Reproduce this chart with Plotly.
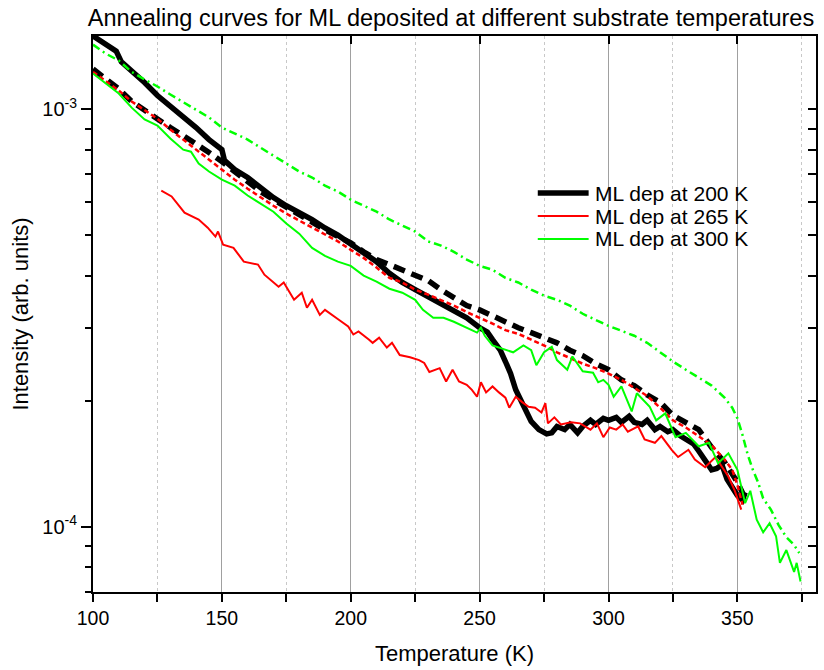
import plotly.graph_objects as go

# ---------------- data (intensity in units of 1e-4 arb. units) ----------------
SCALE = 1e-4

# ML deposited at 200 K  (thick black, solid)
T_200_A = [100, 104, 109, 111, 115, 120, 125, 130, 135, 140, 145, 150, 151, 155, 160, 165, 170,
           175, 180, 185, 190, 195, 200, 205, 210, 215, 220, 225, 230, 235, 240, 245, 250, 253,
           255, 258, 260, 262, 264, 266, 268, 270, 273, 276, 278, 280, 283, 285, 288, 290, 293,
           295, 298, 300, 303, 305, 308, 310, 313, 315, 318, 320, 323, 325, 328, 330, 333, 335,
           338, 340, 342, 344, 346, 348, 350, 352, 353]
I_200_A = [15.0, 14.4, 13.8, 13.0, 12.4, 11.6, 10.8, 10.2, 9.57, 9.05, 8.47, 8.01, 7.55, 7.18,
           6.87, 6.50, 6.15, 5.88, 5.66, 5.45, 5.20, 5.00, 4.76, 4.55, 4.32, 4.05, 3.85, 3.70,
           3.56, 3.42, 3.31, 3.17, 3.00, 2.93, 2.81, 2.65, 2.49, 2.33, 2.13, 2.01, 1.88, 1.79,
           1.71, 1.67, 1.68, 1.74, 1.71, 1.76, 1.68, 1.74, 1.80, 1.76, 1.82, 1.80, 1.83, 1.78,
           1.84, 1.78, 1.76, 1.80, 1.71, 1.74, 1.69, 1.71, 1.65, 1.62, 1.58, 1.52, 1.42, 1.37,
           1.38, 1.41, 1.30, 1.25, 1.19, 1.16, 1.21]

# second 200 K run (thick black, dashed)
T_200_B = [100, 105, 110, 115, 120, 125, 130, 135, 140, 145, 150, 155, 160, 165, 170, 175, 180,
           185, 190, 195, 200, 205, 210, 215, 220, 225, 230, 235, 240, 245, 250, 255, 260, 265,
           270, 275, 280, 285, 290, 295, 300, 305, 310, 315, 320, 325, 330, 335, 340, 345, 350,
           353]
I_200_B = [12.5, 11.8, 11.2, 10.45, 9.94, 9.46, 9.05, 8.66, 8.29, 7.89, 7.50, 7.10, 6.72, 6.36,
           6.08, 5.82, 5.57, 5.37, 5.15, 4.96, 4.79, 4.56, 4.37, 4.25, 4.13, 4.00, 3.89, 3.70,
           3.54, 3.39, 3.31, 3.20, 3.10, 3.00, 2.92, 2.84, 2.76, 2.65, 2.57, 2.46, 2.38, 2.25,
           2.18, 2.07, 1.99, 1.85, 1.78, 1.71, 1.55, 1.43, 1.28, 1.17]

# ML deposited at 265 K  (red, solid)
T_265_A = [126.5, 130.5, 135.5, 141, 144.5, 147.5, 148.5, 150.5, 154.5, 158.5, 164, 166.5, 172,
           174, 178, 181, 183, 185, 188, 190, 195.5, 199, 201, 203, 207, 208.5, 211, 214, 216,
           219, 223, 226.5, 228.5, 230.5, 234.5, 237, 239.5, 242, 245, 247, 249, 250.5, 252.5,
           255, 257.5, 260, 261.5, 264, 266.5, 269, 271.5, 274, 275.5, 276.5, 279, 281.5, 285.5,
           289, 293, 295.5, 298, 300.5, 303, 305.5, 307.5, 311.5, 314, 318, 320.5, 324.5, 327,
           331, 333.5, 337.5, 341.5, 344, 346.5, 349, 351.5]
I_265_A = [6.39, 6.19, 5.66, 5.45, 5.21, 4.96, 5.10, 4.74, 4.66, 4.32, 4.25, 4.02, 3.76, 3.85,
           3.50, 3.64, 3.35, 3.50, 3.22, 3.31, 3.13, 3.02, 2.89, 2.94, 2.81, 2.76, 2.84, 2.69,
           2.76, 2.58, 2.55, 2.51, 2.47, 2.35, 2.40, 2.23, 2.38, 2.23, 2.19, 2.13, 2.05, 2.22,
           2.10, 2.17, 2.10, 2.04, 1.93, 2.05, 1.99, 1.94, 1.93, 1.88, 1.98, 1.77, 1.83, 1.76,
           1.78, 1.77, 1.71, 1.77, 1.64, 1.73, 1.71, 1.76, 1.69, 1.74, 1.62, 1.59, 1.65, 1.53,
           1.47, 1.53, 1.45, 1.39, 1.47, 1.39, 1.32, 1.22, 1.10]

# second 265 K run (red, short dashes)
T_265_B = [100, 105, 110, 115, 120, 125, 130, 135, 140, 145, 150, 155, 160, 165, 170, 175, 180,
           185, 190, 195, 200, 205, 210, 215, 220, 225, 230, 235, 240, 245, 250, 255, 260, 265,
           270, 275, 280, 285, 290, 295, 300, 305, 310, 315, 320, 325, 330, 335, 340, 345, 348,
           350, 352]
I_265_B = [12.3, 11.7, 11.1, 10.45, 9.94, 9.50, 8.95, 8.47, 8.01, 7.58, 7.18, 6.79, 6.46, 6.15,
           5.88, 5.63, 5.42, 5.20, 5.01, 4.83, 4.61, 4.41, 4.18, 3.95, 3.85, 3.70, 3.60, 3.50,
           3.39, 3.27, 3.17, 3.07, 2.96, 2.90, 2.81, 2.72, 2.62, 2.54, 2.46, 2.40, 2.33, 2.25,
           2.15, 2.06, 1.93, 1.80, 1.73, 1.65, 1.57, 1.45, 1.37, 1.26, 1.13]

# ML deposited at 300 K  (green, solid)
T_300_A = [100, 105, 110, 115, 120, 125, 130, 135, 138, 141, 145, 150, 155, 160, 165, 170, 175,
           178, 180, 185, 190, 195, 200, 205, 210, 215, 220, 225, 228, 232, 236, 240, 245, 249,
           250.5, 252, 255, 260, 263, 267, 270, 272, 275, 278, 280, 284, 286, 290, 294, 296, 298,
           300, 302, 305, 309, 311, 316, 318.5, 322, 326, 330, 335, 339, 342.5, 346.5, 350, 353,
           355, 357.5, 360, 362.5, 365, 366.5, 369, 372, 373, 374.5]
I_300_A = [12.2, 11.55, 10.92, 10.1, 9.46, 9.15, 8.52, 8.01, 7.92, 7.42, 7.10, 6.79, 6.57, 6.22,
           5.95, 5.69, 5.33, 5.15, 5.04, 4.66, 4.46, 4.32, 4.22, 4.00, 3.87, 3.72, 3.64, 3.50,
           3.31, 3.17, 3.17, 3.10, 3.00, 2.92, 3.00, 2.87, 2.72, 2.65, 2.62, 2.72, 2.65, 2.44,
           2.62, 2.70, 2.51, 2.38, 2.56, 2.36, 2.34, 2.22, 2.25, 2.19, 2.05, 2.17, 1.89, 2.09,
           1.94, 1.80, 1.87, 1.64, 1.68, 1.56, 1.59, 1.42, 1.50, 1.37, 1.14, 1.22, 1.04, 0.97,
           1.02, 0.95, 0.82, 0.88, 0.78, 0.82, 0.74]

# second 300 K run (green, dash-dot)
T_300_B = [100, 103, 105, 110, 115, 120, 125, 130, 135, 140, 145, 150, 155, 160, 165, 170, 175,
           180, 185, 190, 195, 200, 205, 210, 215, 220, 225, 230, 235, 240, 245, 250, 255, 260,
           265, 270, 275, 280, 285, 290, 295, 300, 305, 310, 315, 320, 325, 330, 335, 340, 345,
           348, 350, 352, 354, 356, 358, 360, 363, 366, 369, 372, 374]
I_300_B = [14.3, 13.9, 13.6, 13.1, 12.3, 11.8, 11.35, 10.86, 10.4, 10.0, 9.57, 9.05, 8.76, 8.47,
           8.10, 7.75, 7.42, 7.10, 6.87, 6.57, 6.36, 6.08, 5.88, 5.69, 5.45, 5.27, 5.10, 4.83,
           4.72, 4.56, 4.37, 4.22, 4.13, 3.95, 3.85, 3.70, 3.58, 3.50, 3.39, 3.24, 3.13, 3.03,
           2.95, 2.87, 2.76, 2.62, 2.49, 2.38, 2.28, 2.18, 2.04, 1.93, 1.82, 1.66, 1.49, 1.37,
           1.28, 1.17, 1.10, 1.01, 0.945, 0.905, 0.866]

LEGEND_NAMES = ["ML dep at 200 K", "ML dep at 265 K", "ML dep at 300 K"]
LEGEND_COLORS = ["#000000", "#ff0000", "#00ff00"]
LEGEND_WIDTHS = [5.5, 2, 2]
X_MAJOR = [100, 150, 200, 250, 300, 350]
X_MINOR = [125, 175, 225, 275, 325, 375]
Y_MAJOR = [1e-4, 1e-3]
Y_MAJOR_TEXT = ["10<sup>-4</sup>", "10<sup>-3</sup>"]
Y_MINOR = [7e-5, 8e-5, 9e-5, 2e-4, 3e-4, 4e-4, 5e-4, 6e-4, 7e-4, 8e-4, 9e-4]

X_RANGE = [100, 380.5]
Y_RANGE_LOG = [-4.156, -2.824]

# figure geometry (pixels)
W, H = 824, 670
ML, MR, MT, MB = 93, 6, 36, 78
PW, PH = W - ML - MR, H - MT - MB


def scaled(vals):
    return [v * SCALE for v in vals]


def px_x(px):
    return (px - ML) / PW


def px_y(py):
    return 1 - (py - MT) / PH


FONT = "Liberation Sans, Arial, sans-serif"

fig = go.Figure()

fig.add_trace(go.Scatter(x=T_200_A, y=scaled(I_200_A), mode="lines", name=LEGEND_NAMES[0],
                         line=dict(color="#000000", width=5.5)))
fig.add_trace(go.Scatter(x=T_200_B, y=scaled(I_200_B), mode="lines", name=LEGEND_NAMES[0] + " (2)",
                         line=dict(color="#000000", width=5.5, dash="12px,7px")))
fig.add_trace(go.Scatter(x=T_265_A, y=scaled(I_265_A), mode="lines", name=LEGEND_NAMES[1],
                         line=dict(color="#ff0000", width=2)))
fig.add_trace(go.Scatter(x=T_265_B, y=scaled(I_265_B), mode="lines", name=LEGEND_NAMES[1] + " (2)",
                         line=dict(color="#ff0000", width=2.5, dash="5px,3px")))
fig.add_trace(go.Scatter(x=T_300_A, y=scaled(I_300_A), mode="lines", name=LEGEND_NAMES[2],
                         line=dict(color="#00ff00", width=2)))
fig.add_trace(go.Scatter(x=T_300_B, y=scaled(I_300_B), mode="lines", name=LEGEND_NAMES[2] + " (2)",
                         line=dict(color="#00ff00", width=2.5, dash="8px,4px,2px,4px")))
# dummy trace so the mirrored top/right axes are drawn
fig.add_trace(go.Scatter(x=[None], y=[None], xaxis="x2", yaxis="y2", hoverinfo="skip"))

# legend drawn as line samples + labels in the plot area (compact row spacing as in original)
LEG_ROWS_PY = [193, 216, 239]
for name, color, width, py in zip(LEGEND_NAMES, LEGEND_COLORS, LEGEND_WIDTHS, LEG_ROWS_PY):
    fig.add_shape(type="line", xref="paper", yref="paper",
                  x0=px_x(539), x1=px_x(590), y0=px_y(py), y1=px_y(py),
                  line=dict(color=color, width=width))
    fig.add_annotation(xref="paper", yref="paper", x=px_x(594), y=px_y(py),
                       xanchor="left", yanchor="middle", showarrow=False, text=name,
                       font=dict(size=21, family=FONT, color="black"))

fig.update_layout(
    width=W, height=H,
    margin=dict(l=ML, r=MR, t=MT, b=MB),
    paper_bgcolor="white", plot_bgcolor="white",
    font=dict(family=FONT, color="black", size=18),
    title=dict(text="Annealing curves for ML deposited at different substrate temperatures",
               x=451 / W, xref="container", xanchor="center",
               y=1 - 18 / H, yref="container", yanchor="middle",
               font=dict(size=23.5, family=FONT, color="black")),
    showlegend=False,
    xaxis=dict(range=X_RANGE, tickmode="array", tickvals=X_MAJOR,
               ticks="outside", ticklen=8, tickwidth=1.5, tickcolor="black",
               showline=True, linecolor="black", linewidth=2, mirror=True,
               showgrid=True, gridcolor="#a0a0a0", gridwidth=1, zeroline=False,
               minor=dict(tickvals=X_MINOR, ticks="outside", ticklen=8, tickwidth=1.5,
                          tickcolor="black", showgrid=True, gridcolor="#c8c8c8",
                          griddash="dot", gridwidth=1),
               title=dict(text="Temperature (K)", font=dict(size=22), standoff=17),
               tickfont=dict(size=19.5)),
    yaxis=dict(type="log", range=Y_RANGE_LOG, tickmode="array", tickvals=Y_MAJOR,
               ticktext=Y_MAJOR_TEXT, ticks="outside", ticklen=10, tickwidth=1.5,
               tickcolor="black", showline=True, linecolor="black", linewidth=2,
               mirror=True, showgrid=False, zeroline=False,
               minor=dict(tickvals=Y_MINOR, ticks="outside", ticklen=6, tickwidth=1.5,
                          tickcolor="black", showgrid=False),
               title=dict(text="Intensity (arb. units)", font=dict(size=22), standoff=8),
               tickfont=dict(size=20)),
    xaxis2=dict(overlaying="x", side="top", range=X_RANGE, tickmode="array",
                tickvals=X_MAJOR, ticks="inside", ticklen=8, tickwidth=1.5,
                tickcolor="black", showticklabels=False, showgrid=False,
                showline=False, zeroline=False),
    yaxis2=dict(overlaying="y", side="right", type="log", range=Y_RANGE_LOG,
                tickmode="array", tickvals=Y_MAJOR + Y_MINOR, ticks="inside",
                ticklen=8, tickwidth=1.5, tickcolor="black", showticklabels=False,
                showgrid=False, showline=False, zeroline=False),
)

fig.write_html("out.html")
